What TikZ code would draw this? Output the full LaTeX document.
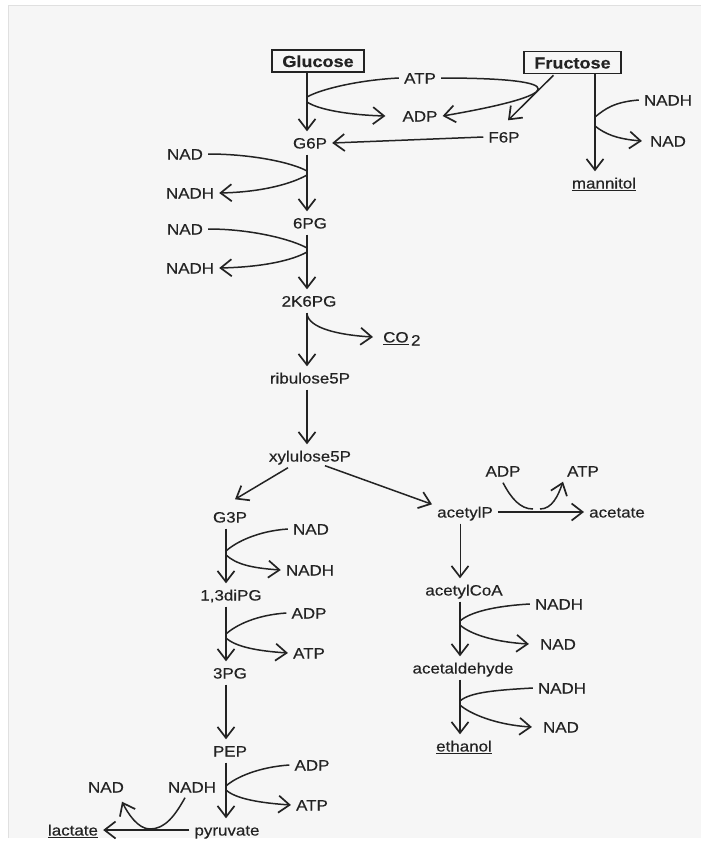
\documentclass[tikz,border=0pt]{standalone}
\usepackage{fontspec}
\setmainfont[FakeStretch=1.13,FakeBold=0.35]{Liberation Sans}
\usetikzlibrary{arrows.meta}
\definecolor{ink}{RGB}{35,35,35}
\definecolor{paper}{RGB}{246,246,246}
\newcommand\labfont{\fontsize{15}{18}\selectfont}
\newcommand\ttlfont{\fontsize{16}{19}\selectfont\bfseries}
\begin{document}
\begin{tikzpicture}[x=1pt,y=-1pt,
  lbl/.style={font=\labfont, text=ink, inner xsep=5pt, inner ysep=6pt, text height=11pt, text depth=0pt},
  ttl/.style={draw=ink, line width=1.5pt, font=\ttlfont, text=ink, minimum height=22pt, inner sep=0pt, text height=12pt, text depth=0pt},
  ln/.style={draw=ink, line width=1.5pt},
  thinln/.style={draw=ink, line width=1pt},
  arr/.style={ln, -{Straight Barb[length=11pt,width=17pt,line width=1.7pt]}},
  thinarr/.style={thinln, -{Straight Barb[length=11pt,width=17pt,line width=1.7pt]}}
]
\fill[white] (0,0) rectangle (701,847);
\fill[paper] (8,5) rectangle (701,838);
\draw[black!12, line width=1pt] (8,838) -- (8,5) -- (701,5);
\useasboundingbox (0,0) rectangle (701,847);

% columns
\coordinate (c1) at (307,0);
\coordinate (c2) at (226,0);
\coordinate (c3) at (460,0);
\coordinate (cf) at (595,0);

% nodes
\node[ttl, minimum width=92pt] (glc) at (318,61) {Glucose};
\node[ttl, minimum width=97pt] (fru) at (572.5,62.5) {Fructose};
\node[lbl] (atp1) at (420,78) {ATP};
\node[lbl] (adp1) at (420,116) {ADP};
\node[lbl] (f6p) at (504,137) {F6P};
\node[lbl] (g6p) at (310,143) {G6P};
\node[lbl] (nadh0) at (668,100) {NADH};
\node[lbl] (nad0) at (668,141) {NAD};
\node[lbl] (mtl) at (604,183) {\underline{mannitol}};
\node[lbl] (nad1) at (185,154) {NAD};
\node[lbl] (nadh1) at (190,193) {NADH};
\node[lbl] (pg6) at (310,223) {6PG};
\node[lbl] (nad2) at (185,229) {NAD};
\node[lbl] (nadh2) at (190,268) {NADH};
\node[lbl] (k6pg) at (309,301) {2K6PG};
\node[lbl, anchor=west] (co2) at (378,337) {\underline{CO}\,\raisebox{-3pt}{2}};
\node[lbl] (rib) at (310,378) {ribulose5P};
\node[lbl] (xyl) at (310,456) {xylulose5P};
\node[lbl] (g3p) at (230,517) {G3P};
\node[lbl] (acp) at (465,512) {acetylP};
\node[lbl] (acet) at (617,512) {acetate};
\node[lbl] (adp3) at (503,471) {ADP};
\node[lbl] (atp3) at (583,471) {ATP};
\node[lbl] (acoa) at (464,590) {acetylCoA};
\node[lbl] (nadh3) at (559,604) {NADH};
\node[lbl] (nad3) at (558,644) {NAD};
\node[lbl] (ald) at (463,668) {acetaldehyde};
\node[lbl] (nadh4) at (562,688) {NADH};
\node[lbl] (nad4) at (561,727) {NAD};
\node[lbl] (eth) at (464,746) {\underline{ethanol}};
\node[lbl] (nad5) at (311,529) {NAD};
\node[lbl] (nadh5) at (310,570) {NADH};
\node[lbl] (dipg) at (231,595) {1,3diPG};
\node[lbl] (adp5) at (309,613) {ADP};
\node[lbl] (atp5) at (309,653) {ATP};
\node[lbl] (pg3) at (230,673) {3PG};
\node[lbl] (pep) at (230,751) {PEP};
\node[lbl] (adp6) at (312,765) {ADP};
\node[lbl] (atp6) at (312,805) {ATP};
\node[lbl] (pyr) at (227,830) {pyruvate};
\node[lbl] (lac) at (73,830) {\underline{lactate}};
\node[lbl] (nad7) at (106,787) {NAD};
\node[lbl] (nadh7) at (192,787) {NADH};

% junction points
\coordinate (j0a) at (307,97);  \coordinate (j0b) at (307,102);
\coordinate (jf1) at (595,117); \coordinate (jf2) at (595,126);
\coordinate (j1a) at (307,171); \coordinate (j1b) at (307,175);
\coordinate (j2a) at (307,248); \coordinate (j2b) at (307,252);
\coordinate (j3) at (307,314);
\coordinate (ja1) at (533,509); \coordinate (ja2) at (540,509);
\coordinate (j4a) at (460,621); \coordinate (j4b) at (460,625);
\coordinate (j5a) at (460,701); \coordinate (j5b) at (460,705);
\coordinate (j6a) at (226,551); \coordinate (j6b) at (226,555);
\coordinate (j7a) at (226,634); \coordinate (j7b) at (226,638);
\coordinate (j8a) at (226,786); \coordinate (j8b) at (226,790);
\coordinate (jl) at (150,829);

% main chain
\draw[arr] (glc.south -| c1) -- (g6p.north -| c1);
\draw[arr] (g6p.south -| c1) -- (pg6.north -| c1);
\draw[arr] (pg6.south -| c1) -- (k6pg.north -| c1);
\draw[arr] (k6pg.south -| c1) -- (rib.north -| c1);
\draw[arr] (rib.south -| c1) -- (xyl.north -| c1);
\draw[arr] ([xshift=-22pt]xyl.south) -- ([xshift=5pt,yshift=6pt]g3p.north);
\draw[arr] ([xshift=15pt,yshift=2pt]xyl.south) -- ([yshift=-4pt]acp.north west);
\draw[arr] (g3p.south -| c2) -- (dipg.north -| c2);
\draw[arr] (dipg.south -| c2) -- (pg3.north -| c2);
\draw[arr] (pg3.south -| c2) -- (pep.north -| c2);
\draw[arr] (pep.south -| c2) -- (pyr.north -| c2);
\draw[arr] (pyr.west) -- (lac.east);
\draw[arr] (acp.east) -- (acet.west);
\draw[thinarr] (acp.south -| c3) -- (acoa.north -| c3);
\draw[arr] (acoa.south -| c3) -- (ald.north -| c3);
\draw[arr] (ald.south -| c3) -- (eth.north -| c3);
\draw[arr] (fru.south -| cf) -- (mtl.north -| cf);
\draw[arr] ([xshift=-19pt,yshift=-1pt]fru.south) -- ([xshift=4pt,yshift=5pt]f6p.north);
\draw[arr] (f6p.west) -- (g6p.east);

% cofactors
\draw[ln] (atp1.west) .. controls +(-40,2) and +(14,-8) .. (j0a);
\draw[arr] (j0b) .. controls +(12,8) and +(-35,-1) .. ([xshift=-12pt]adp1.west);
\draw[arr] (atp1.east) .. controls (575,78) and (565,95) .. (adp1.east);
\draw[ln] (nadh0.west) .. controls +(-25,2) and +(10,-8) .. (jf1);
\draw[arr] (jf2) .. controls +(10,8) and +(-25,-2) .. ([xshift=-3pt]nad0.west);

\draw[ln] (nad1.east) .. controls +(45,0) and +(-14,-8) .. (j1a);
\draw[arr] (j1b) .. controls +(-14,8) and +(45,-1) .. (nadh1.east);
\draw[ln] (nad2.east) .. controls +(45,0) and +(-14,-8) .. (j2a);
\draw[arr] (j2b) .. controls +(-14,8) and +(45,-1) .. (nadh2.east);
\draw[arr] (j3) .. controls +(2,14) and +(-35,-2) .. ([xshift=-5pt]co2.west);

\draw[ln] (adp3.south) .. controls (511,498) and (520,509) .. (ja1);
\draw[arr] (ja2) .. controls (552,509) and (558,496) .. ([xshift=-20pt,yshift=1pt]atp3.south);

\draw[ln] (nadh3.west) .. controls +(-35,2) and +(10,-9) .. (j4a);
\draw[arr] (j4b) .. controls +(10,9) and +(-35,-2) .. ([xshift=-6pt]nad3.west);
\draw[ln] (nadh4.west) .. controls +(-35,2) and +(10,-9) .. (j5a);
\draw[arr] (j5b) .. controls +(10,9) and +(-35,-2) .. ([xshift=-6pt]nad4.west);

\draw[ln] (nad5.west) .. controls +(-30,2) and +(10,-9) .. (j6a);
\draw[arr] (j6b) .. controls +(10,9) and +(-30,-2) .. (nadh5.west);
\draw[ln] (adp5.west) .. controls +(-30,2) and +(10,-9) .. (j7a);
\draw[arr] (j7b) .. controls +(10,9) and +(-30,-2) .. (atp5.west);
\draw[ln] (adp6.west) .. controls +(-30,2) and +(10,-9) .. (j8a);
\draw[arr] (j8b) .. controls +(10,9) and +(-30,-2) .. (atp6.west);

\draw[arr] ([xshift=-7pt,yshift=1pt]nadh7.south) .. controls +(-10,18) and +(15,0) .. (jl)
   .. controls +(-12,0) and +(6,12) .. ([xshift=16pt,yshift=-3pt]nad7.south);
\end{tikzpicture}
\end{document}
